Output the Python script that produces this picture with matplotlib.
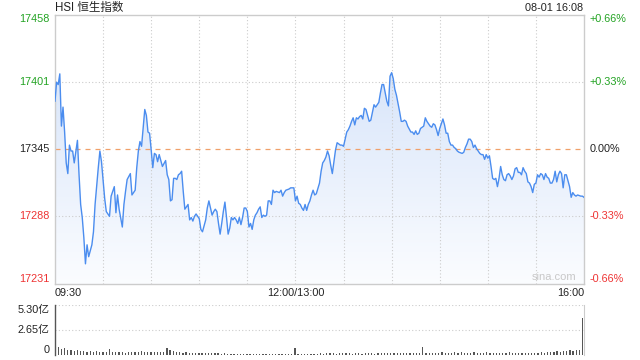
import matplotlib
matplotlib.use("Agg")
import matplotlib.pyplot as plt
import numpy as np
from matplotlib.patches import Polygon

plt.rcParams['font.family'] = ['Liberation Sans', 'Noto Sans CJK SC', 'DejaVu Sans']

# ---------------- data ----------------
prev_close = 17344.5
y_labels = ["17458", "17401", "17345", "17288", "17231"]
y_values = [17458, 17401, 17345, 17288, 17231]
pct_labels = ["+0.66%", "+0.33%", "0.00%", "-0.33%", "-0.66%"]
time_labels = ["09:30", "12:00/13:00", "16:00"]
time_minutes = [0, 150, 330]

# trading minutes since 09:30 (lunch removed) and index level
minutes = [0, 1, 2, 3, 4, 5, 6, 7, 8, 9, 10, 11, 12, 14, 15, 16, 17, 18, 19, 20,
           21, 23, 24, 25, 27, 28, 29, 30, 31, 32, 34, 35, 37, 38, 39, 40, 42, 43, 44, 45,
           47, 48, 50, 51, 52, 53, 54, 55, 56, 57, 58, 59, 60, 61, 62, 63, 64, 65, 67, 69,
           70, 71, 72, 73, 74, 75, 76, 77, 78, 79, 80, 81, 82, 83, 84, 85, 86, 87, 88, 89,
           90, 91, 92, 93, 94, 95, 96, 97, 98, 99, 100, 101, 102, 103, 104, 105, 106, 107, 108, 109,
           110, 111, 112, 113, 114, 115, 116, 117, 118, 119, 120, 121, 122, 123, 124, 125, 126, 127, 128, 129,
           130, 131, 132, 133, 134, 135, 136, 137, 138, 140, 141, 142, 143, 144, 146, 147, 149, 150, 151, 152,
           153, 154, 155, 156, 157, 158, 159, 160, 161, 162, 163, 165, 166, 167, 168, 169, 170, 171, 172, 173,
           174, 175, 176, 177, 178, 179, 180, 181, 182, 183, 184, 185, 186, 187, 188, 189, 190, 191, 192, 193,
           194, 195, 196, 197, 199, 200, 201, 202, 203, 204, 205, 206, 207, 208, 209, 210, 211, 212, 213, 214,
           215, 216, 217, 218, 219, 220, 222, 223, 224, 225, 226, 227, 228, 229, 230, 231, 232, 233, 234, 235,
           236, 237, 238, 239, 240, 241, 242, 243, 244, 245, 246, 247, 248, 249, 250, 251, 252, 254, 255, 256,
           257, 258, 259, 260, 261, 262, 263, 264, 265, 266, 267, 268, 269, 270, 271, 272, 273, 274, 275, 276,
           277, 278, 279, 280, 281, 282, 283, 284, 285, 286, 287, 288, 289, 290, 291, 292, 293, 294, 295, 296,
           297, 298, 299, 300, 301, 302, 303, 304, 305, 306, 307, 308, 309, 310, 311, 312, 313, 314, 315, 316,
           317, 318, 319, 320, 321, 322, 323, 324, 325, 326, 328, 329, 330]
prices = [17385, 17401, 17399, 17408, 17364, 17380, 17359, 17333, 17324, 17348, 17343, 17343, 17333, 17352, 17323, 17298, 17287, 17270, 17248, 17264,
          17254, 17264, 17275, 17298, 17329, 17343, 17334, 17319, 17303, 17292, 17288, 17305, 17313, 17291, 17306, 17294, 17279, 17298, 17309, 17319,
          17324, 17306, 17310, 17329, 17343, 17351, 17347, 17362, 17378, 17373, 17359, 17358, 17344, 17329, 17341, 17340, 17334, 17340, 17330, 17335,
          17323, 17319, 17301, 17302, 17320, 17320, 17319, 17323, 17324, 17326, 17309, 17294, 17296, 17298, 17285, 17287, 17284, 17288, 17290, 17288,
          17286, 17277, 17275, 17280, 17285, 17295, 17301, 17295, 17289, 17292, 17294, 17292, 17282, 17273, 17282, 17292, 17300, 17287, 17273, 17278,
          17287, 17285, 17287, 17285, 17282, 17287, 17281, 17287, 17295, 17295, 17292, 17279, 17282, 17277, 17285, 17289, 17291, 17294, 17296, 17287,
          17289, 17288, 17289, 17301, 17301, 17298, 17310, 17308, 17309, 17308, 17310, 17305, 17308, 17310, 17311, 17312, 17312, 17301, 17305, 17299,
          17298, 17295, 17293, 17298, 17293, 17298, 17301, 17306, 17310, 17306, 17307, 17316, 17326, 17333, 17335, 17338, 17343, 17339, 17331, 17324,
          17334, 17344, 17350, 17349, 17348, 17348, 17347, 17353, 17359, 17361, 17364, 17368, 17371, 17365, 17371, 17370, 17372, 17373, 17370, 17379,
          17378, 17373, 17368, 17369, 17382, 17380, 17382, 17384, 17392, 17399, 17399, 17392, 17385, 17381, 17406, 17409, 17404, 17395, 17390, 17383,
          17376, 17368, 17368, 17369, 17368, 17364, 17359, 17359, 17357, 17360, 17357, 17358, 17362, 17363, 17364, 17371, 17368, 17366, 17364, 17363,
          17366, 17365, 17361, 17356, 17362, 17366, 17370, 17365, 17358, 17358, 17351, 17348, 17348, 17346, 17345, 17343, 17342, 17341, 17342, 17346,
          17349, 17353, 17353, 17351, 17346, 17348, 17345, 17343, 17341, 17340, 17340, 17336, 17340, 17337, 17339, 17330, 17320, 17319, 17320, 17313,
          17320, 17330, 17323, 17319, 17318, 17323, 17324, 17322, 17319, 17322, 17328, 17329, 17325, 17325, 17323, 17329, 17326, 17324, 17317, 17316,
          17313, 17308, 17315, 17316, 17323, 17321, 17324, 17323, 17319, 17324, 17321, 17320, 17316, 17316, 17319, 17326, 17317, 17323, 17326, 17324,
          17312, 17323, 17323, 17318, 17313, 17304, 17308, 17306, 17305, 17306, 17305, 17305, 17304]

# volume (亿), one bar per two trading minutes, plus closing auction
vol_minutes = list(range(0, 150, 2)) + list(range(150, 330, 2)) + [330]
volumes = [1.05, 0.80, 0.60, 0.70, 0.50, 0.55, 0.45, 0.50,
           0.40, 0.45, 0.35, 0.40, 0.35, 0.38, 0.30, 0.35,
           0.32, 0.60, 0.30, 0.35, 0.28, 0.30, 0.25, 0.32,
           0.28, 0.30, 0.35, 0.40, 0.30, 0.28, 0.32, 0.30,
           0.28, 0.32, 0.30, 0.70, 0.55, 0.45, 0.30, 0.28,
           0.25, 0.30, 0.22, 0.25, 0.20, 0.22, 0.18, 0.20,
           0.18, 0.20, 0.16, 0.18, 0.15, 0.16, 0.14, 0.15,
           0.13, 0.14, 0.12, 0.13, 0.11, 0.12, 0.10, 0.12,
           0.10, 0.11, 0.09, 0.10, 0.09, 0.10, 0.08, 0.09,
           0.09, 0.08, 0.09,
           0.75, 0.12, 0.14, 0.12, 0.15, 0.13, 0.12, 0.14,
           0.18, 0.15, 0.20, 0.16, 0.18, 0.15, 0.17, 0.20,
           0.16, 0.18, 0.15, 0.20, 0.17, 0.15, 0.18, 0.16,
           0.20, 0.15, 0.22, 0.18, 0.16, 0.20, 0.18, 0.22,
           0.18, 0.20, 0.16, 0.22, 0.18, 0.20, 0.25, 0.20,
           0.85, 0.18, 0.20, 0.22, 0.18, 0.20, 0.35, 0.20,
           0.25, 0.22, 0.28, 0.20, 0.30, 0.22, 0.25, 0.20,
           0.30, 0.22, 0.25, 0.20, 0.28, 0.18, 0.22, 0.25,
           0.20, 0.25, 0.22, 0.28, 0.20, 0.24, 0.22, 0.20,
           0.22, 0.25, 0.20, 0.22, 0.25, 0.28, 0.25, 0.30,
           0.35, 0.30, 0.40, 0.35, 0.45, 0.38, 0.50, 0.42, 0.48, 0.55,
           3.85]
vol_ticks = [0, 2.65, 5.30]
vol_labels = ["0", "2.65亿", "5.30亿"]

# ---------------- figure ----------------
W, H = 640, 360
fig = plt.figure(figsize=(W / 100, H / 100), dpi=100)

def fx(px):
    return px / W

def fy(py):
    return 1 - py / H

L, R = 55, 584
ax = fig.add_axes([fx(L), fy(284), fx(R - L), fy(14.5) - fy(284)])
axv = fig.add_axes([fx(L), fy(355), fx(R - L), fy(304.5) - fy(355)])

ymin, ymax = 17231, 17458
ax.set_xlim(0, 330)
ax.set_ylim(ymin, ymax)

gridc = '#cccccc'
for m in range(30, 330, 30):
    ax.axvline(m, color=gridc, lw=0.8, ls=(0, (1, 2)), zorder=1)
for v in [17401, 17288]:
    ax.axhline(v, color=gridc, lw=0.8, ls=(0, (1, 2)), zorder=1)
ax.axhline(prev_close, color='#f0a06a', lw=0.9, ls=(0, (4, 4)), zorder=1)

# gradient fill under the line
x = np.array(minutes, dtype=float)
y = np.array(prices, dtype=float)
verts = np.column_stack([np.concatenate([x, [x[-1], x[0]]]),
                         np.concatenate([y, [ymin, ymin]])])
poly = Polygon(verts, closed=True, facecolor='none', edgecolor='none')
ax.add_patch(poly)
grad = np.linspace(1, 0, 256).reshape(-1, 1)
top_c = np.array([0.85, 0.90, 0.98])
bot_c = np.array([0.985, 0.99, 1.0])
img = bot_c + (top_c - bot_c) * grad[..., None]
img = img.reshape(256, 1, 3)
ymaxv = y.max()
im = ax.imshow(img, extent=[0, 330, ymin, ymaxv], aspect='auto', origin='upper', zorder=0.5)
im.set_clip_path(poly)

ax.plot(x, y, color='#4b8def', lw=1.0, zorder=3)

ax.set_xticks([])
ax.set_yticks([])
for s in ax.spines.values():
    s.set_color('#cccccc')
    s.set_linewidth(1.0)

fs = 7.8
green, red, dark = '#22a322', '#ee3333', '#222222'
label_colors = [green, green, dark, red, red]
for i, (v, lab, pl, c) in enumerate(zip(y_values, y_labels, pct_labels, label_colors)):
    va = 'center'
    if i == 0:
        va = 'top'
    elif i == len(y_values) - 1:
        va = 'bottom'
    ax.annotate(lab, xy=(0, v), xycoords=('axes fraction', 'data'),
                xytext=(-4, 0), textcoords='offset points', ha='right', va=va,
                fontsize=fs, color=c)
    ax.annotate(pl, xy=(1, v), xycoords=('axes fraction', 'data'),
                xytext=(4, 0), textcoords='offset points', ha='left', va=va,
                fontsize=fs, color=c)

has = ['left', 'center', 'right']
for m, lab, ha in zip(time_minutes, time_labels, has):
    ax.annotate(lab, xy=(m, 0), xycoords=('data', 'axes fraction'),
                xytext=(0, -3), textcoords='offset points', ha=ha, va='top',
                fontsize=fs, color=dark)

fig.text(fx(55), fy(8), "HSI 恒生指数", ha='left', va='center', fontsize=8.3, color=dark)
fig.text(fx(583), fy(8), "08-01 16:08", ha='right', va='center', fontsize=fs, color=dark)
ax.text(0.985, 0.008, "sina.com", transform=ax.transAxes, ha='right', va='bottom',
        fontsize=8, color='#c8c8c8', zorder=4)

# volume panel
axv.set_xlim(0, 330.8)
axv.set_ylim(0, 5.30)
axv.bar(vol_minutes, volumes, width=0.8, color='#555555', linewidth=0, align='center')
for v in [2.65, 5.30]:
    axv.axhline(v, color=gridc, lw=0.8, ls=(0, (1, 2)), zorder=0)
axv.set_xticks([])
axv.set_yticks([])
for k, s in axv.spines.items():
    s.set_visible(False)
axv.spines['left'].set_visible(True)
axv.spines['left'].set_color('#555555')
axv.spines['left'].set_linewidth(1.0)
axv.spines['right'].set_visible(True)
axv.spines['right'].set_color('#cccccc')
for v, lab in zip(vol_ticks, vol_labels):
    va = 'center'
    if v == 5.30:
        va = 'top'
    elif v == 0:
        va = 'bottom'
    axv.annotate(lab, xy=(0, v), xycoords=('axes fraction', 'data'),
                 xytext=(-4, 0), textcoords='offset points', ha='right', va=va,
                 fontsize=fs, color=dark)

fig.savefig("out.png", dpi=100)
